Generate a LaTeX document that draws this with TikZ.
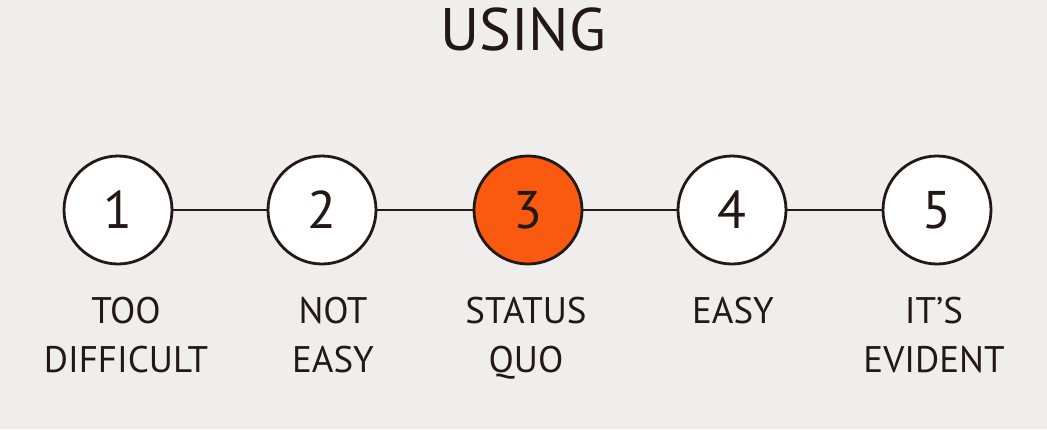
\documentclass[tikz,border=0pt]{standalone}
\usepackage{fontspec}
\setmainfont{PT Sans}
\definecolor{bg}{HTML}{F0EEEC}
\definecolor{ink}{HTML}{231815}
\definecolor{hot}{HTML}{F95A0F}
\begin{document}
\begin{tikzpicture}[x=1pt,y=-1pt,
  stepcircle/.style={circle,draw=ink,line width=2.8pt,fill=white,minimum size=108pt,inner sep=0pt,text=ink,font=\fontsize{53}{53}\selectfont},
  label text/.style={text=ink,font=\fontsize{37}{49}\selectfont,align=center,anchor=base},
  link/.style={draw=ink,line width=2.8pt}]
\fill[bg] (0,0) rectangle (1047,429);
\useasboundingbox (0,0) rectangle (1047,429);
\node[text=ink,font=\fontsize{60}{60}\selectfont,anchor=base] (title) at (523,50) {USING};
\node[stepcircle] (c1) at (118,210) {1};
\node[stepcircle] (c2) at (322,210) {2};
\node[stepcircle,fill=hot] (c3) at (528,210) {3};
\node[stepcircle] (c4) at (732,210) {4};
\node[stepcircle] (c5) at (937,210) {5};
\draw[link] (c1) -- (c2);
\draw[link] (c2) -- (c3);
\draw[link] (c3) -- (c4);
\draw[link] (c4) -- (c5);
\node[label text] (l1) at (126,372) {TOO\\DIFFICULT};
\node[label text] (l2) at (333,372) {NOT\\EASY};
\node[label text] (l3) at (526,372) {STATUS\\QUO};
\node[label text] (l4) at (733,323) {EASY};
\node[label text] (l5) at (934,372) {IT’S\\EVIDENT};
\end{tikzpicture}
\end{document}
